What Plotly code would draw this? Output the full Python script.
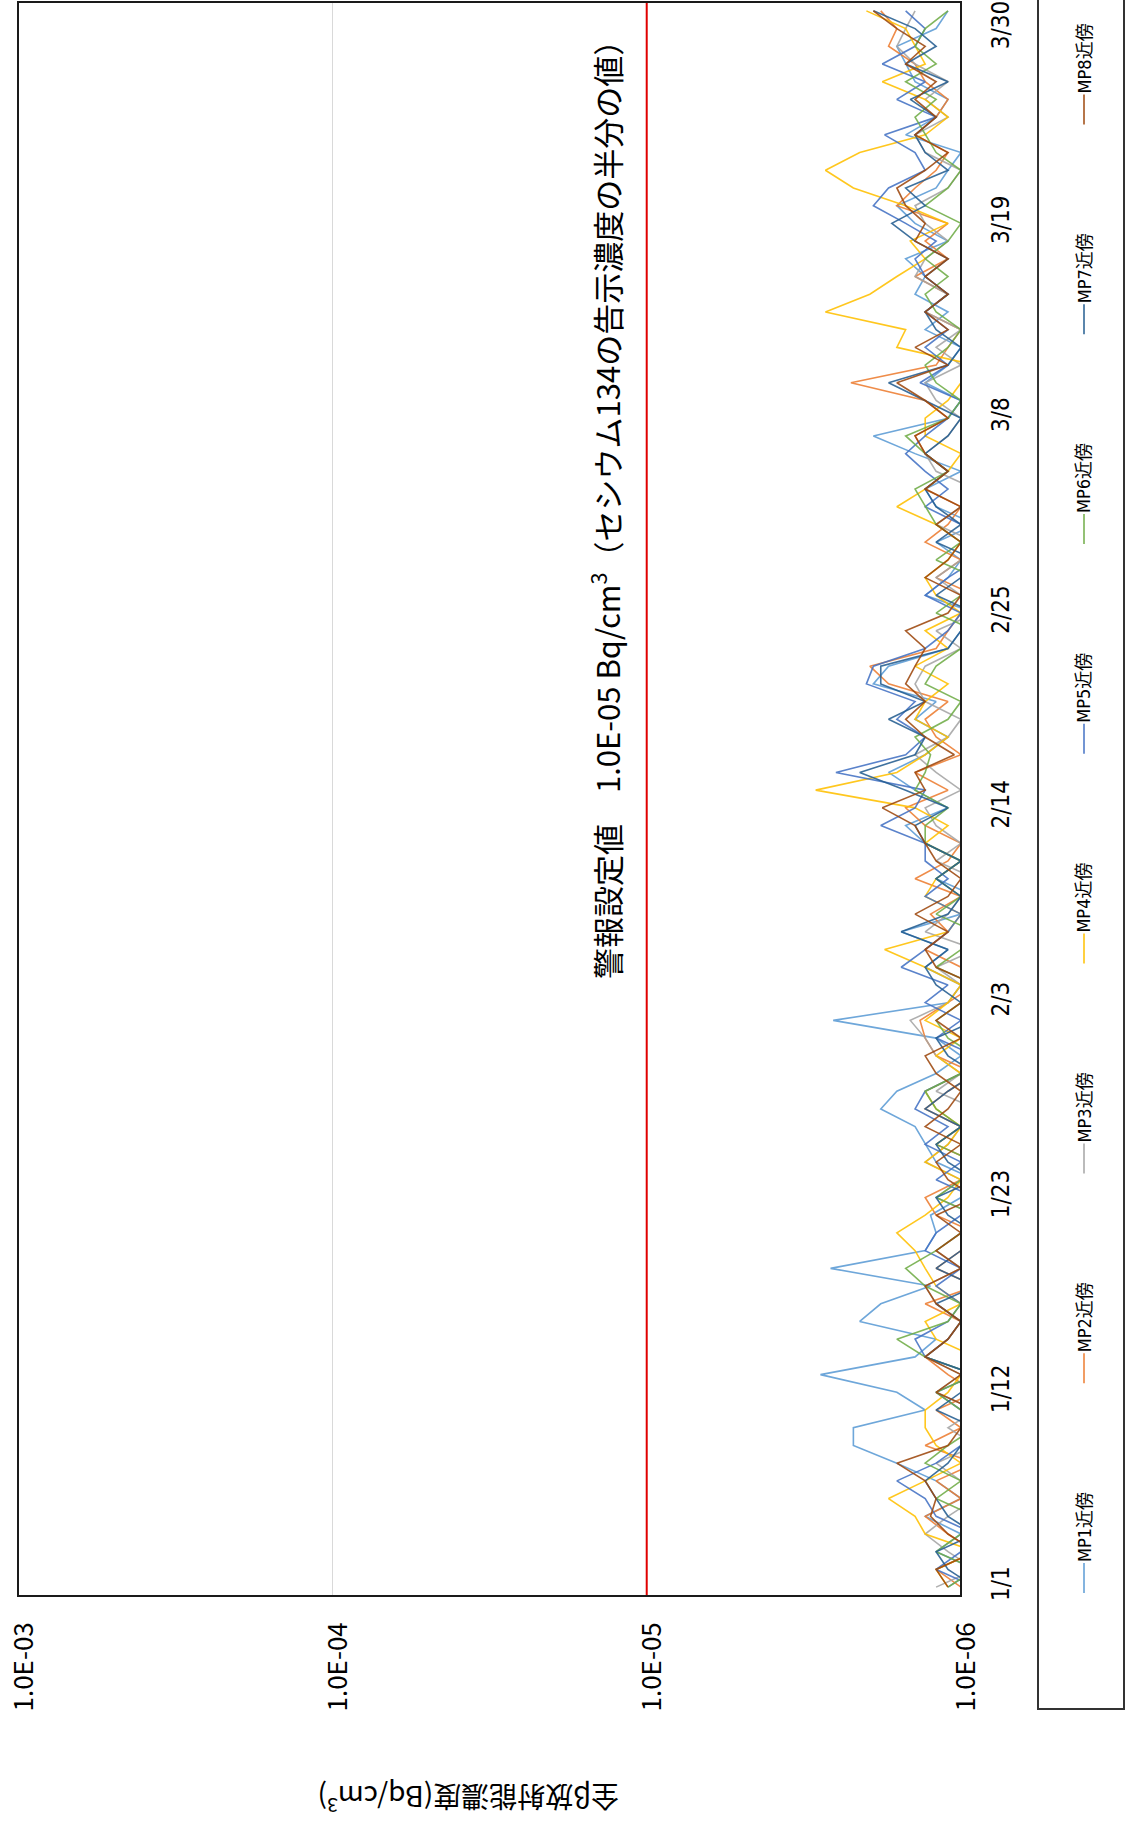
import plotly.graph_objects as go
import pandas as pd

# ---------------- data ----------------
dates = pd.date_range("2023-01-01", "2023-03-31").strftime("%Y-%m-%d").tolist()
tick_dates = ["2023-01-01", "2023-01-12", "2023-01-23", "2023-02-03", "2023-02-14",
              "2023-02-25", "2023-03-08", "2023-03-19", "2023-03-30"]
tick_labels = ["1/1", "1/12", "1/23", "2/3", "2/14", "2/25", "3/8", "3/19", "3/30"]
conc_ticks = [1e-6, 1e-5, 1e-4, 1e-3]
conc_labels = ["1.0E-06", "1.0E-05", "1.0E-04", "1.0E-03"]
alarm_level = 1e-5
series_names = ["MP1近傍", "MP2近傍", "MP3近傍", "MP4近傍", "MP5近傍", "MP6近傍", "MP7近傍", "MP8近傍"]
series_colors = ["#5B9BD5", "#ED7D31", "#A5A5A5", "#FFC000", "#4472C4", "#70AD47", "#255E91", "#9E480E"]

mp1 = [1.1e-6, 0.9e-6, 1.2e-6, 1.0e-6, 1.3e-6, 1.0e-6, 1.2e-6, 1.6e-6, 2.2e-6, 2.2e-6,
       1.3e-6, 1.6e-6, 2.8e-6, 1.4e-6, 1.2e-6, 2.1e-6, 1.8e-6, 1.25e-6, 2.6e-6, 1.3e-6,
       1.2e-6, 1.25e-6, 1.0e-6, 0.9e-6, 1.2e-6, 1.3e-6, 1.4e-6, 1.8e-6, 1.6e-6, 1.2e-6,
       1.0e-6, 1.2e-6, 2.55e-6, 1.1e-6, 1.0e-6, 1.3e-6, 1.1e-6, 1.55e-6, 1.0e-6, 0.9e-6,
       1.2e-6, 1.0e-6, 1.3e-6, 1.5e-6, 1.1e-6, 1.4e-6, 1.7e-6, 1.3e-6, 1.1e-6, 1.4e-6,
       1.2e-6, 1.9e-6, 1.7e-6, 1.1e-6, 1.0e-6, 0.9e-6, 1.3e-6, 1.1e-6, 1.0e-6, 1.2e-6,
       0.9e-6, 1.2e-6, 1.3e-6, 1.0e-6, 1.4e-6, 1.9e-6, 1.1e-6, 1.0e-6, 1.3e-6, 1.1e-6,
       1.0e-6, 1.3e-6, 1.1e-6, 1.4e-6, 1.3e-6, 1.5e-6, 1.1e-6, 1.4e-6, 1.6e-6, 1.2e-6,
       1.1e-6, 1.0e-6, 1.5e-6, 1.2e-6, 1.1e-6, 1.4e-6, 1.5e-6, 1.6e-6, 1.2e-6, 1.1e-6]
mp2 = [1.0e-6, 1.2e-6, 0.9e-6, 1.1e-6, 1.3e-6, 1.0e-6, 1.2e-6, 0.9e-6, 1.3e-6, 1.0e-6,
       1.2e-6, 0.9e-6, 1.1e-6, 1.3e-6, 1.1e-6, 1.0e-6, 1.3e-6, 0.9e-6, 1.2e-6, 1.0e-6,
       0.9e-6, 1.2e-6, 1.3e-6, 1.0e-6, 0.9e-6, 1.2e-6, 1.0e-6, 1.3e-6, 1.1e-6, 0.9e-6,
       1.2e-6, 1.3e-6, 1.35e-6, 1.1e-6, 0.9e-6, 1.0e-6, 1.3e-6, 1.1e-6, 1.25e-6, 1.0e-6,
       1.4e-6, 1.1e-6, 1.0e-6, 1.3e-6, 1.5e-6, 1.1e-6, 1.4e-6, 1.0e-6, 1.2e-6, 1.3e-6,
       1.1e-6, 1.7e-6, 1.95e-6, 1.2e-6, 1.1e-6, 1.0e-6, 0.9e-6, 1.2e-6, 1.0e-6, 1.3e-6,
       1.1e-6, 1.0e-6, 1.3e-6, 1.1e-6, 1.3e-6, 1.4e-6, 1.1e-6, 1.3e-6, 2.24e-6, 1.2e-6,
       1.1e-6, 1.0e-6, 1.3e-6, 1.1e-6, 1.4e-6, 1.1e-6, 1.3e-6, 1.1e-6, 1.6e-6, 1.4e-6,
       1.2e-6, 1.1e-6, 1.4e-6, 1.2e-6, 1.1e-6, 1.3e-6, 1.4e-6, 1.7e-6, 1.6e-6, 1.8e-6]
mp3 = [1.2e-6, 0.9e-6, 1.1e-6, 1.3e-6, 1.1e-6, 0.9e-6, 1.0e-6, 1.2e-6, 0.9e-6, 1.1e-6,
       0.9e-6, 1.2e-6, 1.0e-6, 1.3e-6, 1.1e-6, 1.0e-6, 1.2e-6, 1.3e-6, 1.0e-6, 1.2e-6,
       1.0e-6, 0.9e-6, 1.2e-6, 1.0e-6, 1.3e-6, 1.1e-6, 1.0e-6, 0.9e-6, 1.2e-6, 1.0e-6,
       1.2e-6, 1.3e-6, 1.45e-6, 1.1e-6, 1.0e-6, 1.2e-6, 0.9e-6, 1.3e-6, 1.1e-6, 1.0e-6,
       0.9e-6, 1.2e-6, 1.0e-6, 1.2e-6, 1.3e-6, 1.0e-6, 1.2e-6, 1.4e-6, 1.1e-6, 1.0e-6,
       1.3e-6, 1.4e-6, 1.3e-6, 1.0e-6, 1.2e-6, 0.9e-6, 1.0e-6, 1.2e-6, 1.0e-6, 0.9e-6,
       1.2e-6, 1.0e-6, 0.9e-6, 1.2e-6, 1.3e-6, 1.1e-6, 1.0e-6, 1.2e-6, 1.3e-6, 1.0e-6,
       1.2e-6, 1.0e-6, 1.3e-6, 1.1e-6, 1.4e-6, 1.3e-6, 1.1e-6, 1.3e-6, 1.4e-6, 1.1e-6,
       1.0e-6, 1.3e-6, 1.4e-6, 1.1e-6, 1.3e-6, 1.1e-6, 1.4e-6, 1.6e-6, 1.5e-6, 1.4e-6]
mp4 = [1.1e-6, 1.2e-6, 0.9e-6, 1.3e-6, 1.4e-6, 1.7e-6, 1.3e-6, 1.0e-6, 1.2e-6, 1.3e-6,
       1.3e-6, 1.1e-6, 1.0e-6, 0.9e-6, 1.2e-6, 1.3e-6, 1.0e-6, 1.2e-6, 1.3e-6, 1.4e-6,
       1.6e-6, 1.3e-6, 1.1e-6, 1.0e-6, 1.3e-6, 1.1e-6, 1.0e-6, 1.2e-6, 1.3e-6, 1.0e-6,
       1.2e-6, 1.0e-6, 1.3e-6, 1.1e-6, 1.0e-6, 1.3e-6, 1.75e-6, 1.1e-6, 1.0e-6, 1.3e-6,
       1.2e-6, 1.0e-6, 1.3e-6, 1.1e-6, 1.4e-6, 2.9e-6, 1.6e-6, 1.3e-6, 1.1e-6, 1.4e-6,
       1.3e-6, 1.1e-6, 1.4e-6, 1.1e-6, 1.3e-6, 1.0e-6, 1.2e-6, 1.3e-6, 1.1e-6, 1.0e-6,
       1.2e-6, 1.6e-6, 1.3e-6, 1.1e-6, 1.0e-6, 1.3e-6, 1.3e-6, 1.1e-6, 1.0e-6, 0.9e-6,
       1.6e-6, 1.5e-6, 2.7e-6, 1.95e-6, 1.6e-6, 1.3e-6, 1.45e-6, 1.1e-6, 1.5e-6, 2.2e-6,
       2.7e-6, 2.1e-6, 1.3e-6, 1.1e-6, 1.3e-6, 1.78e-6, 1.3e-6, 1.4e-6, 1.5e-6, 2.0e-6]
mp5 = [0.9e-6, 1.2e-6, 1.0e-6, 0.9e-6, 1.2e-6, 1.3e-6, 1.6e-6, 1.2e-6, 1.0e-6, 0.9e-6,
       1.0e-6, 1.2e-6, 0.9e-6, 1.3e-6, 1.4e-6, 1.1e-6, 1.0e-6, 1.2e-6, 1.0e-6, 1.3e-6,
       1.2e-6, 1.0e-6, 0.9e-6, 1.2e-6, 1.0e-6, 1.3e-6, 1.1e-6, 1.4e-6, 1.3e-6, 1.0e-6,
       0.9e-6, 1.2e-6, 1.0e-6, 1.3e-6, 1.1e-6, 1.55e-6, 1.3e-6, 1.1e-6, 1.0e-6, 1.3e-6,
       1.1e-6, 1.3e-6, 1.3e-6, 1.8e-6, 1.4e-6, 1.3e-6, 2.5e-6, 1.5e-6, 1.3e-6, 1.6e-6,
       1.4e-6, 2.0e-6, 1.9e-6, 1.3e-6, 1.1e-6, 1.0e-6, 1.3e-6, 1.1e-6, 0.9e-6, 1.0e-6,
       1.0e-6, 1.3e-6, 1.1e-6, 1.3e-6, 1.5e-6, 1.3e-6, 1.1e-6, 1.0e-6, 1.35e-6, 1.1e-6,
       1.3e-6, 1.1e-6, 1.3e-6, 1.1e-6, 1.3e-6, 1.4e-6, 1.2e-6, 1.5e-6, 1.9e-6, 1.7e-6,
       1.3e-6, 1.4e-6, 1.75e-6, 1.2e-6, 1.6e-6, 1.3e-6, 1.78e-6, 1.4e-6, 1.3e-6, 1.5e-6]
mp6 = [1.1e-6, 0.9e-6, 1.2e-6, 1.0e-6, 0.9e-6, 1.2e-6, 1.0e-6, 1.3e-6, 1.1e-6, 0.9e-6,
       1.0e-6, 1.2e-6, 0.9e-6, 1.3e-6, 1.6e-6, 1.1e-6, 1.0e-6, 1.3e-6, 1.5e-6, 1.2e-6,
       1.0e-6, 0.9e-6, 1.2e-6, 1.0e-6, 0.9e-6, 1.2e-6, 1.0e-6, 1.2e-6, 1.3e-6, 1.0e-6,
       0.9e-6, 1.1e-6, 1.2e-6, 1.0e-6, 0.9e-6, 1.2e-6, 1.0e-6, 0.9e-6, 1.2e-6, 1.0e-6,
       1.2e-6, 1.0e-6, 1.3e-6, 1.3e-6, 1.1e-6, 1.4e-6, 1.3e-6, 1.25e-6, 1.4e-6, 1.1e-6,
       1.0e-6, 1.3e-6, 1.2e-6, 1.0e-6, 0.9e-6, 1.2e-6, 1.0e-6, 0.9e-6, 1.2e-6, 1.0e-6,
       1.2e-6, 1.3e-6, 1.4e-6, 1.1e-6, 1.3e-6, 1.5e-6, 1.1e-6, 1.0e-6, 1.2e-6, 1.3e-6,
       1.1e-6, 1.0e-6, 1.2e-6, 1.3e-6, 1.1e-6, 1.3e-6, 1.1e-6, 1.0e-6, 1.3e-6, 1.1e-6,
       1.0e-6, 1.2e-6, 1.3e-6, 1.4e-6, 1.2e-6, 1.5e-6, 1.2e-6, 1.4e-6, 1.3e-6, 1.1e-6]
mp7 = [0.9e-6, 1.1e-6, 1.2e-6, 0.9e-6, 1.1e-6, 1.2e-6, 1.3e-6, 1.1e-6, 1.0e-6, 0.9e-6,
       1.2e-6, 1.0e-6, 0.9e-6, 1.3e-6, 1.1e-6, 1.0e-6, 1.2e-6, 0.9e-6, 1.2e-6, 1.0e-6,
       0.9e-6, 1.1e-6, 1.2e-6, 0.9e-6, 1.1e-6, 1.2e-6, 1.0e-6, 1.3e-6, 1.1e-6, 0.9e-6,
       1.1e-6, 1.2e-6, 0.9e-6, 1.0e-6, 1.2e-6, 1.3e-6, 1.1e-6, 1.55e-6, 1.1e-6, 1.0e-6,
       1.2e-6, 1.0e-6, 1.3e-6, 1.4e-6, 1.1e-6, 1.5e-6, 2.1e-6, 1.4e-6, 1.3e-6, 1.7e-6,
       1.3e-6, 1.8e-6, 1.8e-6, 1.1e-6, 1.0e-6, 0.9e-6, 1.2e-6, 1.0e-6, 0.9e-6, 1.2e-6,
       1.0e-6, 1.2e-6, 1.3e-6, 1.1e-6, 1.3e-6, 1.1e-6, 1.0e-6, 1.3e-6, 1.7e-6, 1.1e-6,
       1.0e-6, 1.2e-6, 1.3e-6, 1.1e-6, 1.3e-6, 1.1e-6, 1.4e-6, 1.66e-6, 1.3e-6, 1.5e-6,
       1.1e-6, 1.3e-6, 1.4e-6, 1.2e-6, 1.45e-6, 1.1e-6, 1.5e-6, 1.2e-6, 1.4e-6, 1.9e-6]
mp8 = [1.1e-6, 1.2e-6, 0.9e-6, 1.1e-6, 1.25e-6, 1.2e-6, 1.3e-6, 1.6e-6, 1.1e-6, 1.0e-6,
       0.9e-6, 1.2e-6, 1.0e-6, 1.3e-6, 1.1e-6, 1.0e-6, 1.2e-6, 1.3e-6, 1.0e-6, 1.2e-6,
       1.0e-6, 1.2e-6, 0.9e-6, 1.1e-6, 1.2e-6, 1.0e-6, 1.3e-6, 1.1e-6, 1.0e-6, 1.2e-6,
       1.3e-6, 1.0e-6, 1.2e-6, 1.0e-6, 0.9e-6, 1.2e-6, 1.3e-6, 1.1e-6, 1.4e-6, 1.1e-6,
       1.0e-6, 1.2e-6, 1.3e-6, 1.4e-6, 1.78e-6, 1.3e-6, 1.4e-6, 1.05e-6, 1.3e-6, 1.5e-6,
       1.3e-6, 1.5e-6, 1.4e-6, 1.3e-6, 1.5e-6, 1.1e-6, 1.0e-6, 1.3e-6, 1.1e-6, 1.0e-6,
       1.2e-6, 1.0e-6, 1.3e-6, 1.1e-6, 1.3e-6, 1.4e-6, 1.1e-6, 1.3e-6, 1.6e-6, 1.1e-6,
       1.4e-6, 1.1e-6, 1.3e-6, 1.1e-6, 1.3e-6, 1.1e-6, 1.4e-6, 1.3e-6, 1.5e-6, 1.6e-6,
       1.3e-6, 1.1e-6, 1.4e-6, 1.2e-6, 1.4e-6, 1.2e-6, 1.5e-6, 1.3e-6, 1.6e-6, 1.9e-6]

series_values = [mp1, mp2, mp3, mp4, mp5, mp6, mp7, mp8]

# ---------------- layout geometry (pixels) ----------------
W, H = 1128, 1827
PL, PR, PT, PB = 18, 961, 2, 1596   # plot area edges


def px_x(px):
    return (px - PL) / (PR - PL)


def px_y(py):
    return (PB - py) / (PB - PT)


JP = "Noto Sans CJK JP, Noto Sans, sans-serif"
NARROW = "Liberation Sans Narrow, DejaVu Sans Condensed, Noto Sans CJK JP, sans-serif"

fig = go.Figure()

for name, vals, col in zip(series_names, series_values, series_colors):
    fig.add_trace(go.Scatter(x=vals, y=dates, mode="lines", name=name,
                             line=dict(color=col, width=1.6), opacity=0.88,
                             hoverinfo="x+y+name"))

# alarm level line (1.0E-05)
y_lo = "2022-12-31 12:00"
y_hi = "2023-03-31 12:00"
fig.add_trace(go.Scatter(x=[alarm_level, alarm_level], y=[y_lo, y_hi], mode="lines",
                         line=dict(color="#E00000", width=2), showlegend=False,
                         hoverinfo="skip"))

fig.update_xaxes(type="log", range=[-2.9995, -6], tickvals=conc_ticks, ticktext=conc_labels,
                 tickangle=-90, tickfont=dict(family=JP, size=26, color="#000000"),
                 showgrid=True, gridcolor="#D9D9D9", gridwidth=1, zeroline=False,
                 showline=False, ticks="", ticklabelstandoff=20, ticklabelshift=-6,
                 ticklabeloverflow="allow", automargin=False)
fig.update_yaxes(type="date", range=[y_lo, y_hi], tickvals=tick_dates, ticktext=tick_labels,
                 side="right", tickangle=-90,
                 tickfont=dict(family=NARROW, size=24, color="#000000"),
                 showgrid=False, zeroline=False, showline=False, ticks="",
                 ticklabelstandoff=23, ticklabeloverflow="allow", automargin=False)

shapes = []
annotations = []

# plot-area border
shapes.append(dict(type="rect", xref="paper", yref="paper", x0=0, x1=1, y0=0, y1=1,
                   line=dict(color="#1a1a1a", width=2), fillcolor="rgba(0,0,0,0)", layer="above"))

# alarm annotation
annotations.append(dict(xref="paper", yref="paper", x=px_x(606), y=px_y(502),
                        text="警報設定値　1.0E-05 Bq/cm<sup>3</sup>（セシウム134の告示濃度の半分の値）",
                        textangle=-90, showarrow=False, xanchor="center", yanchor="middle",
                        font=dict(family=JP, size=31, color="#000000")))

# axis title (upside down as in the reference)
annotations.append(dict(xref="paper", yref="paper", x=px_x(469), y=px_y(1800),
                        text="全β放射能濃度(Bq/cm<sup>3</sup>)", textangle=180, showarrow=False,
                        xanchor="center", yanchor="middle",
                        font=dict(family=JP, size=28, color="#000000")))

# custom rotated legend
shapes.append(dict(type="rect", xref="paper", yref="paper",
                   x0=px_x(1038), x1=px_x(1124), y0=px_y(1709), y1=px_y(-10),
                   line=dict(color="#333333", width=2), fillcolor="rgba(0,0,0,0)"))
legend_x = 1084
for i, (name, col) in enumerate(zip(series_names, series_colors)):
    cy = 1527 - 209.8 * i
    shapes.append(dict(type="line", xref="paper", yref="paper",
                       x0=px_x(legend_x), x1=px_x(legend_x),
                       y0=px_y(cy + 36), y1=px_y(cy + 66),
                       line=dict(color=col, width=1.5)))
    annotations.append(dict(xref="paper", yref="paper", x=px_x(legend_x), y=px_y(cy),
                            text=name, textangle=-90, showarrow=False,
                            xanchor="center", yanchor="middle",
                            font=dict(family=NARROW, size=18, color="#000000")))

fig.update_layout(width=W, height=H, margin=dict(l=PL, r=W - PR, t=PT, b=H - PB, autoexpand=False),
                  paper_bgcolor="#FFFFFF", plot_bgcolor="#FFFFFF", showlegend=False,
                  shapes=shapes, annotations=annotations)

fig.write_html("out.html", config={"displayModeBar": False},
               post_script="document.body.style.margin='0';")
